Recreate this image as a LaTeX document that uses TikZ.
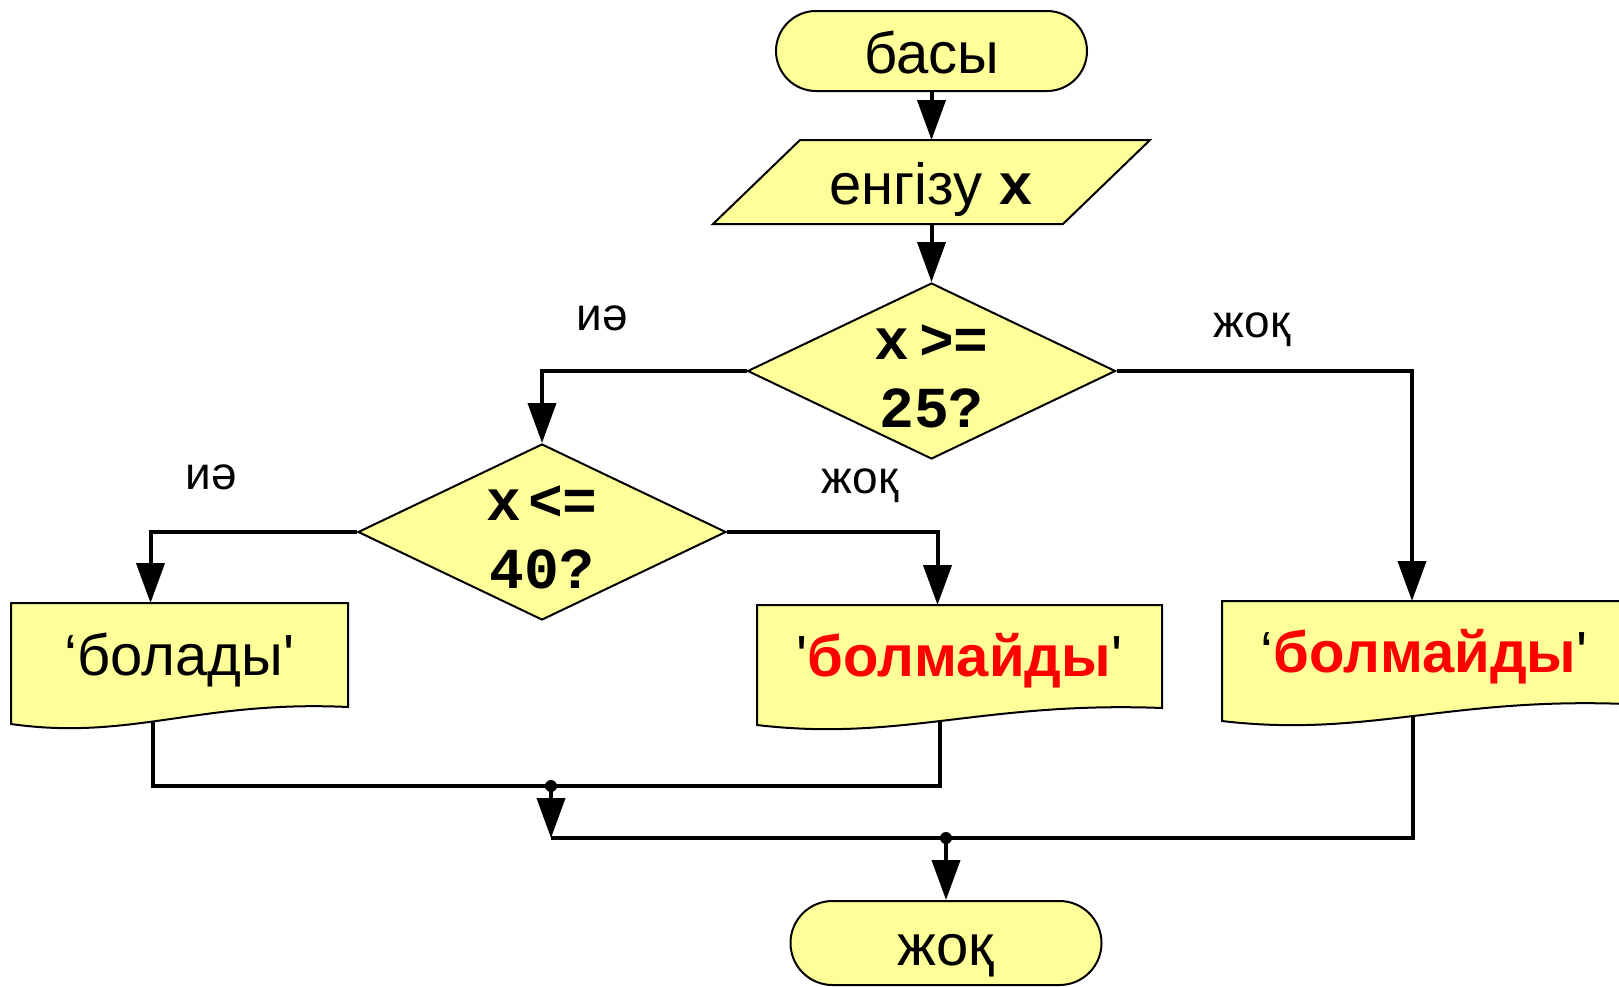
\documentclass[tikz,border=0pt]{standalone}
\usepackage{fontspec}
\setmainfont{Liberation Sans}
\setmonofont{Liberation Mono}
\usetikzlibrary{arrows.meta,shapes.geometric,calc}
\pgfdeclarelayer{conn}
\pgfdeclarelayer{shp}
\pgfsetlayers{conn,shp,main}
\definecolor{boxyellow}{HTML}{FFFF99}
\definecolor{textred}{HTML}{FF0000}
\tikzset{
  shapeline/.style={draw=black, line width=2pt, fill=boxyellow},
  terminal/.style={shapeline, rounded corners=40pt, minimum width=311pt, minimum height=80pt,
    inner sep=0pt, text height=44pt, text depth=0pt, font=\fontsize{58}{62}\selectfont},
  frame/.style={inner sep=0pt, outer sep=0pt, text height=44pt, text depth=0pt,
    font=\fontsize{58}{62}\selectfont},
  docframe/.style={inner sep=0pt, outer sep=0pt, text height=40pt, text depth=0pt,
    font=\fontsize{58}{62}\selectfont},
  decision/.style={shapeline, diamond, minimum width=368pt, minimum height=176pt, inner sep=0pt},
  dtext/.style={align=center, inner sep=0pt, font=\ttfamily\bfseries\fontsize{58}{68}\selectfont},
  lbl/.style={anchor=base, inner sep=0pt, font=\fontsize{46}{50}\selectfont},
  conline/.style={line width=4pt},
  arr/.style={line width=4pt, -{Triangle[width=28pt,length=40pt]}},
}
\newcommand\docshape[1]{%
  \draw[shapeline] (#1.north west) -- (#1.north east) -- (#1.south east)
    .. controls ($(#1.south west)!0.56!(#1.south east)+(0,-7)$)
    and ($(#1.south west)!0.355!(#1.south east)+(0,34)$)
    .. ($(#1.south west)+(0,17)$) -- cycle;}
\begin{document}
\begin{tikzpicture}[x=1pt,y=-1pt]
\useasboundingbox (0,0) rectangle (1619,986);

% nodes
\node[terminal] (start) at (931.5,51) {басы};
\node[frame, minimum width=350pt, minimum height=84pt] (inp) at (931.5,182) {енгізу {\ttfamily\bfseries x}};
\node[decision] (d1) at (931.5,371) {};
\node[dtext] (d1t) at ([yshift=-5pt]d1.center) {x\hspace{10pt}>=\\25?};
\node[decision] (d2) at (542,532) {};
\node[dtext] (d2t) at ([yshift=-5pt]d2.center) {x\hspace{7pt}<=\\40?};
\node[docframe, minimum width=337pt, minimum height=104pt] (b1) at (179.5,655) {‘болады\textquotesingle};
\node[docframe, minimum width=405pt, minimum height=103pt] (b2) at (959.5,656.5) {\textquotesingle\textcolor{textred}{\bfseries болмайды}\textquotesingle};
\node[docframe, minimum width=404pt, minimum height=103pt] (b3) at (1424,652.5) {‘\textcolor{textred}{\bfseries болмайды}\textquotesingle};
\node[terminal, minimum height=84pt, rounded corners=42pt] (end) at (946,943) {жоқ};

% labels
\node[lbl] (y1) at (602,330) {иә};
\node[lbl] (n1) at (1252,337) {жоқ};
\node[lbl] (y2) at (211,489) {иә};
\node[lbl] (n2) at (860,493) {жоқ};

% shapes drawn as paths
\begin{pgfonlayer}{shp}
\draw[shapeline] ([xshift=43.5pt]inp.north west) -- ([xshift=43.5pt]inp.north east)
  -- ([xshift=-43.5pt]inp.south east) -- ([xshift=-43.5pt]inp.south west) -- cycle;
\docshape{b1}
\docshape{b2}
\docshape{b3}
\end{pgfonlayer}

% junctions
\coordinate (j1) at (551,786);
\coordinate (j2) at (946,838);

% connectors
\begin{pgfonlayer}{conn}
\draw[arr] (start.south) -- (inp.north);
\draw[arr] (inp.south) -- (d1.north);
\draw[arr] (d1.west) -| (d2.north);
\draw[arr] (d1.east) -| ([xshift=-12pt]b3.north);
\draw[arr] (d2.west) -| ([xshift=-29pt]b1.north);
\draw[arr] (d2.east) -| ([xshift=-22pt]b2.north);
\draw[conline] ([xshift=-27pt]b1.south) |- (j1) -| ([xshift=-20pt]b2.south);
\draw[arr] (j1) -- (j1 |- j2);
\draw[conline] ([xshift=-11pt]b3.south) |- (j1 |- j2);
\draw[arr] (j2) -- (end.north);
\fill (j1) circle (6pt);
\fill (j2) circle (6pt);
\end{pgfonlayer}
\end{tikzpicture}
\end{document}
